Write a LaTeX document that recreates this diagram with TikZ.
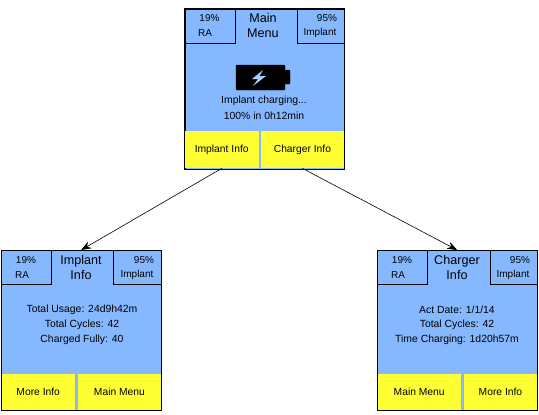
\documentclass[tikz,border=0pt]{standalone}
\usepackage{fontspec}
\setmainfont{Liberation Sans}
\usetikzlibrary{arrows.meta}
\definecolor{screenblue}{HTML}{85B8FF}
\definecolor{btnyellow}{HTML}{FFFF33}
\tikzset{
  x=1pt,y=-1pt,
  screen/.style={draw=black,line width=0.8pt,fill=screenblue,minimum width=159.5pt,minimum height=160pt,inner sep=0pt,anchor=north west},
  tab/.style={draw=black,line width=0.8pt,fill=screenblue,inner sep=0pt,anchor=north west,minimum height=34pt},
  btn/.style={fill=btnyellow,inner sep=0pt,anchor=north west,font=\fontsize{10.3}{12}\selectfont},
  small/.style={font=\fontsize{10}{12}\selectfont,inner sep=0pt},
  info/.style={font=\fontsize{10.4}{12}\selectfont,inner sep=0pt},
  title/.style={font=\fontsize{12.6}{15}\selectfont,inner sep=0pt,align=center},
  link/.style={draw=black,line width=0.6pt,-{Stealth[length=10pt,width=7.5pt]}},
}
\begin{document}
\begin{tikzpicture}
\useasboundingbox (0,0) rectangle (539,415);
% main menu
\node[screen] (mainS) at (184.5,8.5) {};
\node[tab,minimum width=50pt] (mainL) at (184.5,8.5) {};
\node[tab,minimum width=47pt] (mainR) at (297,8.5) {};
\node[small] (mainLa) at (209.5,18) {19\%};
\node[small] (mainLb) at (205,33) {RA};
\node[small] (mainRa) at (327,18) {95\%};
\node[small] (mainRb) at (320,33) {Implant};
\node[title] (mainT) at (263,25) {Main\\Menu};
\node[btn,minimum width=74pt,minimum height=37pt] (mainB1) at (184.5,131) {Implant Info};
\node[btn,minimum width=82.5pt,minimum height=37pt] (mainB2) at (261,131) {Charger Info};
\node[info] (mainI1) at (264,101) {Implant charging...};
\node[info] (mainI2) at (264,116) {100\% in 0h12min};
\draw[rounded corners=1pt,fill=black] (236,65) rectangle (285,90);
\draw[rounded corners=1pt,fill=black] (285,70) rectangle (290,84);
\fill[screenblue!70!white] (263,70) -- (252,79) -- (258,79) -- (253,86) -- (266,76) -- (259.5,76) -- cycle;
% implant info
\node[screen] (impS) at (1,250) {};
\node[tab,minimum width=50pt] (impL) at (1,250) {};
\node[tab,minimum width=47.5pt] (impR) at (113,250) {};
\node[small] (impLa) at (26,260) {19\%};
\node[small] (impLb) at (22,275) {RA};
\node[small] (impRa) at (144,260) {95\%};
\node[small] (impRb) at (137,275) {Implant};
\node[title] (impT) at (81,267) {Implant\\Info};
\node[info] (impI1) at (82,310) {Total Usage: 24d9h42m};
\node[info] (impI2) at (82,325) {Total Cycles: 42};
\node[info] (impI3) at (82,339.5) {Charged Fully: 40};
\node[btn,minimum width=74pt,minimum height=36pt] (impB1) at (1,374) {More Info};
\node[btn,minimum width=82.5pt,minimum height=36pt] (impB2) at (78,374) {Main Menu};
% charger info
\node[screen] (chgS) at (377,250) {};
\node[tab,minimum width=50pt] (chgL) at (377,250) {};
\node[tab,minimum width=47pt] (chgR) at (489.5,250) {};
\node[small] (chgLa) at (402,260) {19\%};
\node[small] (chgLb) at (398,275) {RA};
\node[small] (chgRa) at (520,260) {95\%};
\node[small] (chgRb) at (513,275) {Implant};
\node[title] (chgT) at (457,267) {Charger\\Info};
\node[info] (chgI1) at (457,310) {Act Date: 1/1/14};
\node[info] (chgI2) at (457,325) {Total Cycles: 42};
\node[info] (chgI3) at (457,339.5) {Time Charging: 1d20h57m};
\node[btn,minimum width=84pt,minimum height=36pt] (chgB1) at (377,374) {Main Menu};
\node[btn,minimum width=72.5pt,minimum height=36pt] (chgB2) at (464,374) {More Info};
% outlines on top of buttons
\draw[line width=0.8pt] (mainS.south west) rectangle (mainS.north east);
\draw[line width=0.8pt] (impS.south west) rectangle (impS.north east);
\draw[line width=0.8pt] (chgS.south west) rectangle (chgS.north east);
% connectors
\draw[link] (mainB1.south) -- (impS.north);
\draw[link] (mainB2.south) -- (chgS.north);
\end{tikzpicture}
\end{document}
